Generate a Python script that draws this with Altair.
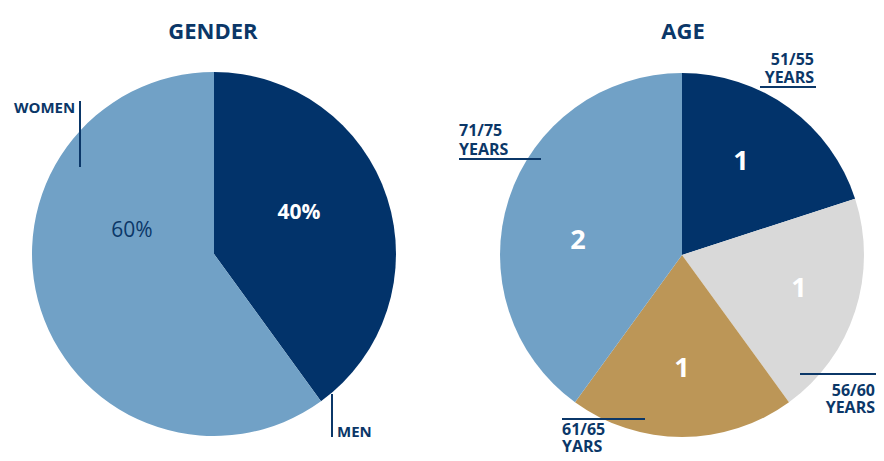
import altair as alt
import pandas as pd

# ---- data ----
gender_labels = ["MEN", "WOMEN"]
gender_values = [40, 60]
gender_colors = ["#02336a", "#71a1c6"]

age_labels = ["51/55 YEARS", "56/60 YEARS", "61/65 YARS", "71/75 YEARS"]
age_values = [1, 1, 1, 2]
age_colors = ["#02336a", "#d9d9d9", "#bc9657", "#71a1c6"]

titles = ["GENDER", "AGE"]

NAVY = "#0b3768"
FONT = "Open Sans"
R = 182

gender_df = pd.DataFrame({"label": gender_labels, "value": gender_values,
                          "order": list(range(len(gender_labels)))})
age_df = pd.DataFrame({"label": age_labels, "value": age_values,
                       "order": list(range(len(age_labels)))})
one = pd.DataFrame({"k": [0]})


def pie(df, labels, colors, cx, cy):
    return alt.Chart(df).mark_arc(radius=R, stroke=None).encode(
        theta=alt.Theta("value:Q", stack=True),
        color=alt.Color("label:N", scale=alt.Scale(domain=labels, range=colors), legend=None),
        order=alt.Order("order:Q"),
        x=alt.value(cx), y=alt.value(cy),
    )


def txt(text, x, y, size, color=NAVY, weight="bold", align="center", lh=18):
    return alt.Chart(one).mark_text(
        text=text, font=FONT, fontSize=size, fontWeight=weight, color=color,
        align=align, baseline="alphabetic", lineHeight=lh,
    ).encode(x=alt.value(x), y=alt.value(y))


def rule(x1, x2, y1, y2):
    return alt.Chart(one).mark_rule(color=NAVY, strokeWidth=2).encode(
        x=alt.value(x1), x2=alt.value(x2), y=alt.value(y1), y2=alt.value(y2))


layers = [
    pie(gender_df, gender_labels, gender_colors, 206, 246),
    pie(age_df, age_labels, age_colors, 674, 247),
    txt(titles[0], 205, 31, 22),
    txt(titles[1], 675, 31, 22),
    # gender labels
    txt(gender_labels[1], 6, 105, 15, align="left"),
    rule(72, 72, 93, 159),
    txt(gender_labels[0], 329, 429, 15, align="left"),
    rule(324, 324, 386, 429),
    txt(f"{gender_values[1]}%", 124, 229, 21, color="#0b3768", weight=500),
    txt(f"{gender_values[0]}%", 291, 211, 21, color="white", weight="bold"),
    # age outer labels (two lines each)
    txt(age_labels[0].split(" "), 806, 57, 16, align="right"),
    rule(752, 808, 79, 79),
    txt(age_labels[3].split(" "), 451, 128, 16, align="left", lh=19),
    rule(451, 533, 151, 151),
    txt(age_labels[1].split(" "), 867, 388, 16, align="right", lh=17),
    rule(792, 868, 366, 366),
    txt(age_labels[2].split(" "), 554, 427, 16, align="left", lh=17),
    rule(554, 637, 411, 411),
    # age inner values
    txt(str(age_values[0]), 733, 162, 27, color="white", weight="bold"),
    txt(str(age_values[1]), 791, 289, 27, color="white", weight="bold"),
    txt(str(age_values[2]), 674, 369, 27, color="white", weight="bold"),
    txt(str(age_values[3]), 570, 241, 27, color="white", weight="bold"),
]

chart = alt.layer(*layers).resolve_scale(
    theta="independent", color="independent"
).properties(
    width=868, height=445, padding=0, autosize="none", background="white"
).configure_view(stroke=None)

chart.save("out.html", embed_options={"renderer": "svg", "actions": False})
